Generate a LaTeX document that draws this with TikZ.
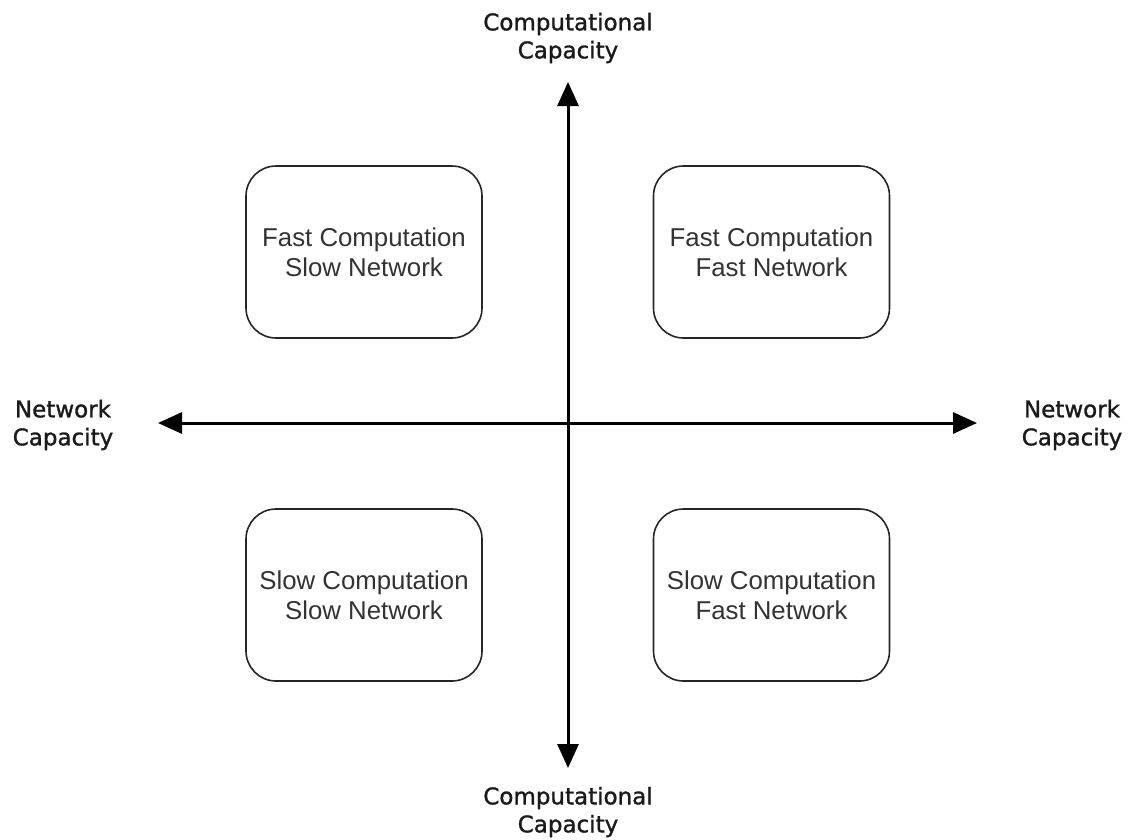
\documentclass[tikz,border=0pt]{standalone}
\usepackage{fontspec}
\setmainfont{Liberation Sans}
\newfontface\axisfont[FakeBold=1.2]{DejaVu Sans}
\usetikzlibrary{arrows.meta}
\definecolor{boxtext}{HTML}{333333}
\definecolor{axislabel}{HTML}{1A1A1A}
\begin{document}
\begin{tikzpicture}[x=1pt,y=-1pt,
  quadrant/.style={draw=black!85, line width=1.6pt, rounded corners=30pt,
    minimum width=236pt, minimum height=172pt, align=center,
    text=boxtext, font=\fontsize{25.8}{30}\selectfont},
  axisname/.style={align=center, text=axislabel,
    font=\axisfont\fontsize{23}{28}\selectfont},
  axisline/.style={line width=3pt,
    {Triangle[length=24pt,width=21pt]}-{Triangle[length=24pt,width=21pt]}}]
  \useasboundingbox (0,0) rectangle (1131,839);

  % axis end points
  \coordinate (west) at (158,423);
  \coordinate (east) at (977,423);
  \coordinate (north) at (568,82);
  \coordinate (south) at (568,768);

  \draw[axisline] (west) -- (east);
  \draw[axisline] (south) -- (north);

  % axis names
  \node[axisname] (ntop) at (568,38) {Computational\\Capacity};
  \node[axisname] (nbottom) at (568,812) {Computational\\Capacity};
  \node[axisname] (nleft) at (63,425) {Network\\Capacity};
  \node[axisname] (nright) at (1072,425) {Network\\Capacity};

  % quadrants
  \node[quadrant] (fs) at (364,252) {Fast Computation\\Slow Network};
  \node[quadrant] (ff) at (771.5,252) {Fast Computation\\Fast Network};
  \node[quadrant] (ss) at (364,595) {Slow Computation\\Slow Network};
  \node[quadrant] (sf) at (771.5,595) {Slow Computation\\Fast Network};
\end{tikzpicture}
\end{document}
